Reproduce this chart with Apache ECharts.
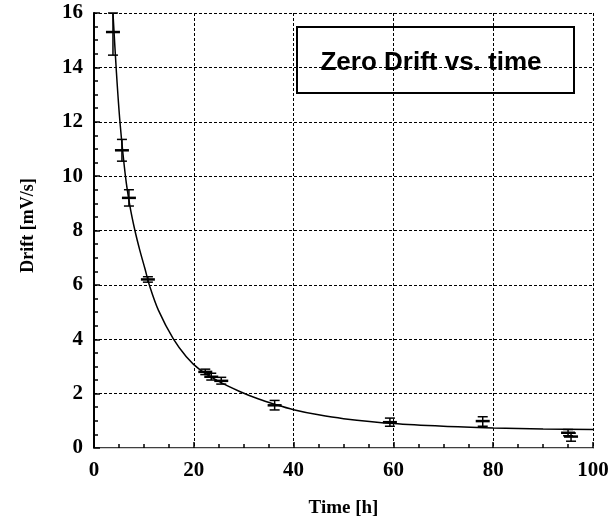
<!DOCTYPE html>
<html>
<head>
<meta charset="utf-8">
<script src="https://cdn.jsdelivr.net/npm/echarts@6/dist/echarts.min.js"></script>
<style>
html, body {
  margin: 0;
  padding: 0;
  background: #fff;
}
#drift-chart {
  height: 523px;
  width: 614px;
}
</style>
</head>
<body>
<div id="drift-chart"></div>
<script>
const pointTime = [3.8, 5.6, 7.0, 10.8, 22.3, 23.5, 25.5, 36.2, 59.3, 77.9, 95.0, 95.6]
const pointDrift = [15.3, 10.95, 9.2, 6.2, 2.8, 2.62, 2.47, 1.57, 0.95, 0.99, 0.56, 0.42]
const errLow = [14.45, 10.55, 8.9, 6.1, 2.7, 2.5, 2.35, 1.4, 0.8, 0.8, 0.45, 0.25]
const errHigh = [16, 11.35, 9.5, 6.3, 2.9, 2.75, 2.6, 1.75, 1.1, 1.15, 0.68, 0.55]

// fitted curve
const curveTime = [3.8, 4.5, 5.2, 6.3, 7.2, 8.2, 9.2, 10.2, 11.2, 12.9, 15.9, 18.5, 21.2, 25, 29.2, 33, 36, 40, 45, 50, 60, 70, 80, 90, 100]
const curveDrift = [16, 13.8, 12, 10, 8.9, 8, 7.26, 6.6, 5.93, 5.07, 4.01, 3.36, 2.88, 2.45, 2.08, 1.8, 1.62, 1.41, 1.22, 1.08, 0.9, 0.8, 0.74, 0.7, 0.68]

const title = 'Zero Drift vs. time'

const chart = echarts.init(document.querySelector('#drift-chart'))

const labelStyle = {
  color: '#000',
  fontFamily: 'Liberation Serif',
  fontWeight: 'bold',
  fontSize: 21
}
const gridLine = {
  show: true,
  lineStyle: { color: '#000', type: [3, 2], width: 1 }
}
// note: inside: true is what puts the ticks outside the plot here
const tick = { show: true, inside: true, length: 6, lineStyle: { color: '#000', width: 1.5 } }
const minor = { show: true, splitNumber: 4, length: 4, lineStyle: { color: '#000', width: 1.5 } }

chart.setOption({
  animation: false,
  grid: { left: 94, right: 21, top: 13, bottom: 74 },
  xAxis: [
    {
      type: 'value',
      min: 0,
      max: 100,
      interval: 20,
      name: 'Time [h]',
      nameLocation: 'middle',
      nameGap: 51,
      nameTextStyle: { color: '#000', fontFamily: 'Liberation Serif', fontWeight: 'bold', fontSize: 19 },
      axisLine: { show: true, lineStyle: { color: '#000', width: 1.5 } },
      axisTick: tick,
      minorTick: minor,
      axisLabel: Object.assign({ margin: 12 }, labelStyle),
      splitLine: gridLine
    },
    {
      type: 'value',
      position: 'top',
      min: 0,
      max: 100,
      axisLine: { show: true, lineStyle: { color: '#ccc', width: 1 } },
      axisTick: { show: false },
      axisLabel: { show: false },
      splitLine: { show: false }
    }
  ],
  yAxis: [
    {
      type: 'value',
      min: 0,
      max: 16,
      interval: 2,
      name: 'Drift [mV/s]',
      nameLocation: 'middle',
      nameGap: 57,
      nameRotate: 90,
      nameTextStyle: { color: '#000', fontFamily: 'Liberation Serif', fontWeight: 'bold', fontSize: 18, padding: [0, 0, 0, 10] },
      axisLine: { show: true, lineStyle: { color: '#000', width: 2 } },
      axisTick: tick,
      minorTick: minor,
      axisLabel: Object.assign({ margin: 11 }, labelStyle),
      splitLine: gridLine
    },
    {
      type: 'value',
      position: 'right',
      min: 0,
      max: 16,
      axisLine: { show: true, lineStyle: { color: '#000', width: 1.5 } },
      axisTick: { show: false },
      axisLabel: { show: false },
      splitLine: { show: false }
    }
  ],
  series: [
    {
      type: 'line',
      smooth: 0.3,
      showSymbol: false,
      lineStyle: { color: '#000', width: 1.5 },
      data: curveTime.map((t, i) => [t, curveDrift[i]]),
      z: 2
    },
    {
      type: 'custom',
      data: pointTime.map((t, i) => [t, pointDrift[i], errLow[i], errHigh[i]]),
      renderItem (params, api) {
        const mid = api.coord([api.value(0), api.value(1)])
        const lo = api.coord([api.value(0), api.value(2)])
        const hi = api.coord([api.value(0), api.value(3)])
        const style = { stroke: '#000', lineWidth: 1.5 }
        return {
          type: 'group',
          children: [
            { type: 'line', shape: { x1: mid[0], y1: hi[1], x2: mid[0], y2: lo[1] }, style },
            { type: 'line', shape: { x1: mid[0] - 5, y1: hi[1], x2: mid[0] + 5, y2: hi[1] }, style },
            { type: 'line', shape: { x1: mid[0] - 5, y1: lo[1], x2: mid[0] + 5, y2: lo[1] }, style },
            { type: 'line', shape: { x1: mid[0] - 7, y1: mid[1], x2: mid[0] + 7, y2: mid[1] }, style: { stroke: '#000', lineWidth: 2.5 } }
          ]
        }
      },
      z: 3
    }
  ],
  graphic: [
    {
      type: 'group',
      left: 296,
      top: 26,
      z: 10,
      children: [
        {
          type: 'rect',
          shape: { x: 0, y: 0, width: 277, height: 66 },
          style: { fill: '#fff', stroke: '#000', lineWidth: 2 }
        },
        {
          type: 'text',
          x: 134,
          y: 36,
          style: {
            text: title,
            fill: '#000',
            font: 'bold 26px "Liberation Sans"',
            align: 'center',
            verticalAlign: 'middle'
          }
        }
      ]
    }
  ]
})
</script>
</body>
</html>
